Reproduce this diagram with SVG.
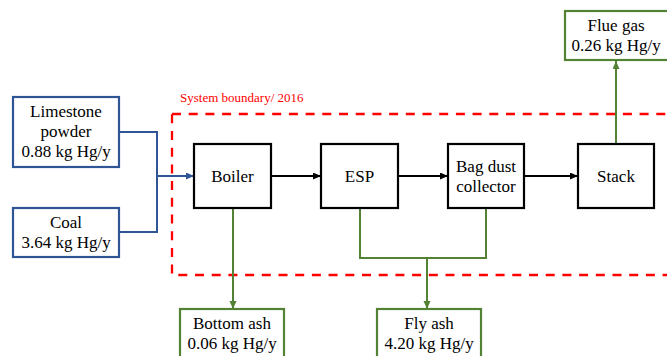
<svg xmlns="http://www.w3.org/2000/svg" width="667" height="356" viewBox="0 0 667 356" font-family="Liberation Serif, serif">
<style>
text{font-size:17px;fill:#000;text-anchor:middle}
.blue{fill:#fff;stroke:#2F5597;stroke-width:2.2}
.green{fill:#fff;stroke:#548235;stroke-width:2.2}
.black{fill:#fff;stroke:#000;stroke-width:2.2}
.cb{fill:none;stroke:#2F5597;stroke-width:2}
.cg{fill:none;stroke:#548235;stroke-width:2}
.ck{fill:none;stroke:#000;stroke-width:2}
.boundary{fill:none;stroke:#FF0000;stroke-width:2.3;stroke-dasharray:9 7.7}
.lbl{font-size:13px;fill:#FF0000;text-anchor:start}
</style>
<defs>
<marker id="ak" markerUnits="userSpaceOnUse" markerWidth="9" markerHeight="8" refX="8" refY="3.5" orient="auto"><path d="M0,0 L8,3.5 L0,7 z" fill="#000"/></marker>
<marker id="ab" markerUnits="userSpaceOnUse" markerWidth="9" markerHeight="8" refX="8" refY="3.5" orient="auto"><path d="M0,0 L8,3.5 L0,7 z" fill="#2F5597"/></marker>
<marker id="ag" markerUnits="userSpaceOnUse" markerWidth="9" markerHeight="8" refX="8" refY="3.5" orient="auto"><path d="M0,0 L8,3.5 L0,7 z" fill="#548235"/></marker>
</defs>
<rect width="667" height="356" fill="#fff"/>
<g id="system-boundary">
<rect class="boundary" x="172" y="114" width="520" height="161"/>
<text class="lbl" x="180" y="102">System boundary/ 2016</text>
</g>
<g id="connectors">
<polyline class="cb" points="119,132 157,132 157,232 119,232"/>
<line class="cb" x1="157" y1="176" x2="194" y2="176" marker-end="url(#ab)"/>
<line class="ck" x1="271" y1="176" x2="321" y2="176" marker-end="url(#ak)"/>
<line class="ck" x1="398" y1="176" x2="448" y2="176" marker-end="url(#ak)"/>
<line class="ck" x1="524" y1="176" x2="578" y2="176" marker-end="url(#ak)"/>
<line class="cg" x1="616" y1="144" x2="616" y2="61" marker-end="url(#ag)"/>
<line class="cg" x1="233" y1="208" x2="233" y2="309" marker-end="url(#ag)"/>
<polyline class="cg" points="360,208 360,258 486,258 486,208"/>
<line class="cg" x1="427" y1="258" x2="427" y2="309" marker-end="url(#ag)"/>
</g>
<g id="limestone">
<rect class="blue" x="13" y="97" width="106" height="70"/>
<text x="66" y="117">Limestone</text>
<text x="66" y="137">powder</text>
<text x="66" y="157">0.88 kg Hg/y</text>
</g>
<g id="coal">
<rect class="blue" x="13" y="208" width="106" height="49"/>
<text x="66" y="228">Coal</text>
<text x="66" y="248">3.64 kg Hg/y</text>
</g>
<g id="boiler">
<rect class="black" x="194" y="144" width="77" height="64"/>
<text x="232.5" y="182">Boiler</text>
</g>
<g id="esp">
<rect class="black" x="321" y="144" width="77" height="64"/>
<text x="359.5" y="182">ESP</text>
</g>
<g id="bag-dust-collector">
<rect class="black" x="448" y="144" width="76" height="64"/>
<text x="486" y="172">Bag dust</text>
<text x="486" y="192">collector</text>
</g>
<g id="stack">
<rect class="black" x="578" y="144" width="76" height="64"/>
<text x="616" y="182">Stack</text>
</g>
<g id="flue-gas">
<rect class="green" x="565" y="11" width="104" height="49"/>
<text x="616" y="31">Flue gas</text>
<text x="616" y="51">0.26 kg Hg/y</text>
</g>
<g id="bottom-ash">
<rect class="green" x="180" y="309" width="104" height="52"/>
<text x="232" y="329">Bottom ash</text>
<text x="232" y="349">0.06 kg Hg/y</text>
</g>
<g id="fly-ash">
<rect class="green" x="377" y="309" width="104" height="52"/>
<text x="429" y="329">Fly ash</text>
<text x="429" y="349">4.20 kg Hg/y</text>
</g>
</svg>
